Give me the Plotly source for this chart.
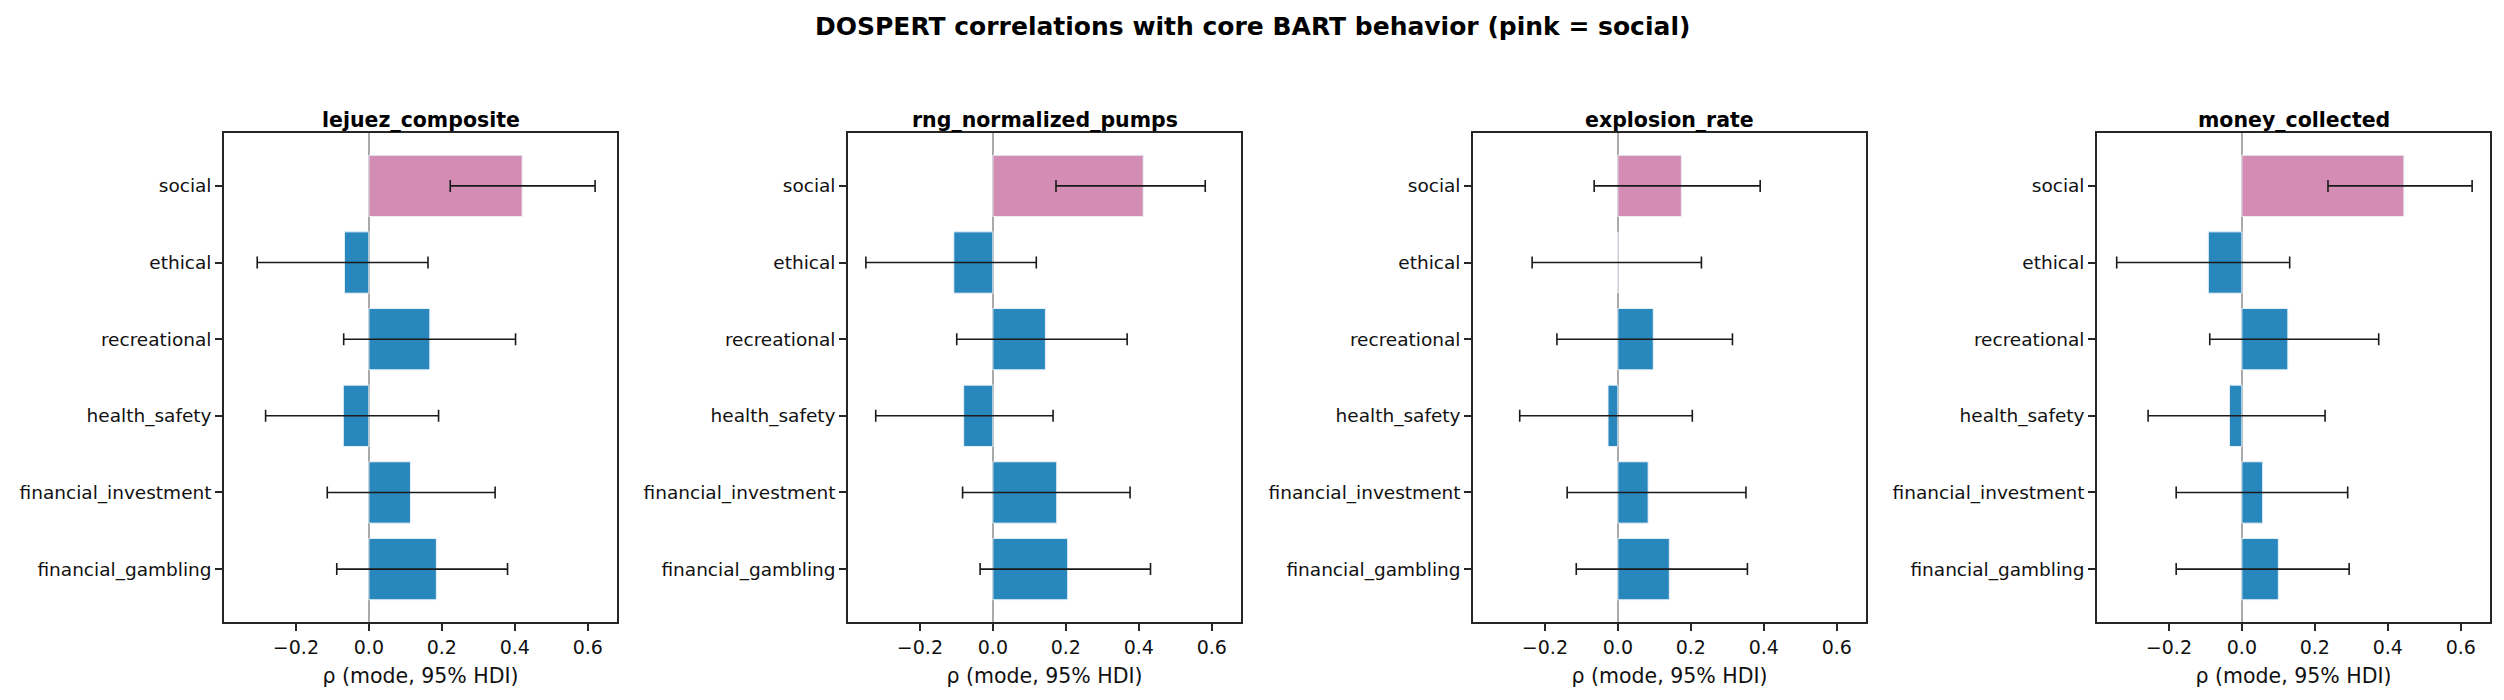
import plotly.graph_objects as go

# domains, bottom to top (as drawn)
domains = ["financial_gambling", "financial_investment", "health_safety",
           "recreational", "ethical", "social"]

metrics = ["lejuez_composite", "rng_normalized_pumps", "explosion_rate", "money_collected"]

# rho mode and 95% HDI per metric
lejuez_mode = [0.185, 0.114, -0.070, 0.167, -0.067, 0.420]
lejuez_lo = [-0.088, -0.114, -0.283, -0.069, -0.306, 0.223]
lejuez_hi = [0.380, 0.346, 0.191, 0.402, 0.162, 0.620]

rng_mode = [0.205, 0.175, -0.080, 0.144, -0.107, 0.412]
rng_lo = [-0.035, -0.083, -0.321, -0.099, -0.348, 0.173]
rng_hi = [0.432, 0.376, 0.165, 0.368, 0.119, 0.582]

expl_mode = [0.141, 0.083, -0.027, 0.097, 0.0, 0.174]
expl_lo = [-0.114, -0.139, -0.269, -0.167, -0.235, -0.065]
expl_hi = [0.355, 0.351, 0.204, 0.314, 0.229, 0.390]

money_mode = [0.100, 0.057, -0.034, 0.126, -0.092, 0.444]
money_lo = [-0.180, -0.180, -0.257, -0.088, -0.343, 0.236]
money_hi = [0.294, 0.290, 0.228, 0.375, 0.131, 0.631]

modes = [lejuez_mode, rng_mode, expl_mode, money_mode]
los = [lejuez_lo, rng_lo, expl_lo, money_lo]
his = [lejuez_hi, rng_hi, expl_hi, money_hi]

BLUE = "#2887bd"
PINK = "#d38cb3"
FONT = "DejaVu Sans"

# page body has an 8px margin, so the figure is a bit smaller and offset
OFF = 8
W, H = 2504 - OFF, 700 - OFF


def fx(px):
    return (px - OFF) / W


def fy(py):
    return 1 - (py - OFF) / H


# axes boxes in window pixels (left, right)
x_boxes = [(224, 617), (848, 1241), (1473, 1866), (2097, 2490)]
y_dom = [fy(622), fy(133)]

fig = go.Figure()
colors = [PINK if d == "social" else BLUE for d in domains]

for i, m in enumerate(metrics):
    mode = modes[i]
    plus = [h - v for h, v in zip(his[i], mode)]
    minus = [v - l for v, l in zip(mode, los[i])]
    ax = "" if i == 0 else str(i + 1)
    fig.add_trace(go.Bar(
        x=mode, y=list(range(len(domains))), orientation="h",
        width=0.8,
        marker=dict(color=colors, line=dict(color="#e8f0f6", width=1)),
        error_x=dict(type="data", array=plus, arrayminus=minus,
                     color="#1a1a1a", thickness=1.6, width=6),
        xaxis="x" + ax, yaxis="y" + ax, showlegend=False,
    ))
    dom = [fx(x_boxes[i][0]), fx(x_boxes[i][1])]
    fig.layout["xaxis" + ax] = dict(
        domain=dom, anchor="y" + ax, range=[-0.397, 0.680],
        tickvals=[-0.2, 0.0, 0.2, 0.4, 0.6], tickformat=".1f",
        ticks="outside", ticklen=7, tickwidth=1.6, tickcolor="#262626",
        showline=True, linecolor="#262626", linewidth=1.6, mirror=True,
        showgrid=False, zeroline=True, zerolinecolor="#aaaaaa", zerolinewidth=2,
        tickfont=dict(family=FONT, size=19, color="#111111"),
        title=dict(text="ρ (mode, 95% HDI)", standoff=12,
                   font=dict(family=FONT, size=20.5, color="#111111")),
    )
    fig.layout["yaxis" + ax] = dict(
        domain=y_dom, anchor="x" + ax, range=[-0.69, 5.69],
        tickvals=list(range(len(domains))), ticktext=domains,
        ticks="outside", ticklen=7, tickwidth=1.6, tickcolor="#262626",
        showline=True, linecolor="#262626", linewidth=1.6, mirror=True,
        showgrid=False, zeroline=False,
        tickfont=dict(family=FONT, size=18.5, color="#111111"),
    )
    fig.add_annotation(
        text="<b>" + m + "</b>", x=(dom[0] + dom[1]) / 2, y=y_dom[1],
        xref="paper", yref="paper", xanchor="center", yanchor="bottom",
        yshift=-1, showarrow=False,
        font=dict(family=FONT, size=20.5, color="#000000"),
    )

fig.add_annotation(
    text="<b>DOSPERT correlations with core BART behavior (pink = social)</b>",
    x=fx(1252), y=fy(26), xref="paper", yref="paper",
    xanchor="center", yanchor="middle", showarrow=False,
    font=dict(family=FONT, size=25, color="#000000"),
)

fig.update_layout(
    width=W, height=H,
    margin=dict(l=0, r=0, t=0, b=0),
    paper_bgcolor="white", plot_bgcolor="white",
    bargap=0.2,
)

fig.write_html("out.html")
